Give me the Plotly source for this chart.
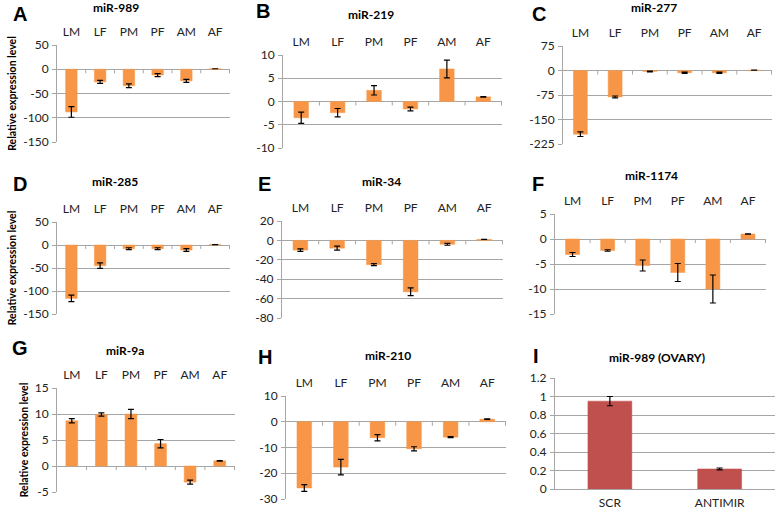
import plotly.graph_objects as go

W, H = 778, 512

categories = ["LM", "LF", "PM", "PF", "AM", "AF"]

mir989 = [-88, -26, -34, -12, -24, 1]
mir989_err = [11, 3, 4, 3, 3, 0]

mir219 = [-3.5, -2.4, 2.4, -1.6, 7.0, 1.0]
mir219_err = [1.2, 0.9, 1.0, 0.4, 1.9, 0.05]

mir277 = [-195, -81, -3, -7, -7, 1]
mir277_err = [7, 3, 1, 2, 2, 0]

mir285 = [-116, -45, -8, -8, -11, 1]
mir285_err = [7, 6, 2, 2, 3, 0]

mir34 = [-10, -8, -25, -53, -4, 1]
mir34_err = [1.3, 2, 1, 4, 1, 0]

mir1174 = [-3.1, -2.3, -5.3, -6.7, -10.0, 1.0]
mir1174_err = [0.4, 0.15, 1.1, 1.8, 2.8, 0.05]

mir9a = [8.7, 9.9, 10.0, 4.3, -3.1, 1.0]
mir9a_err = [0.4, 0.3, 0.9, 0.8, 0.4, 0.05]

mir210 = [-25.7, -17.6, -6.2, -10.5, -6.0, 1.0]
mir210_err = [1.3, 3.0, 1.2, 0.8, 0.2, 0.1]

ovary_categories = ["SCR", "ANTIMIR"]
ovary = [0.95, 0.217]
ovary_err = [0.05, 0.01]

# y tick values per panel
ticks_989 = [-150, -100, -50, 0, 50]
ticks_219 = [-10, -5, 0, 5, 10]
ticks_277 = [-225, -150, -75, 0, 75]
ticks_285 = [-150, -100, -50, 0, 50]
ticks_34 = [-80, -60, -40, -20, 0, 20]
ticks_1174 = [-15, -10, -5, 0, 5]
ticks_9a = [-5, 0, 5, 10, 15]
ticks_210 = [-30, -20, -10, 0, 10]
ticks_ovary = [0, 0.2, 0.4, 0.6, 0.8, 1, 1.2]

ORANGE = "#F79646"
RED = "#C0504D"
GRID = "#A6A6A6"

# ylab: None or title standoff in px
panels = [
    ("A", "miR-989", categories, mir989, mir989_err, ticks_989, ORANGE, (57, 230, 45, 142), (20, 14), (116, 7), 4),
    ("B", "miR-219", categories, mir219, mir219_err, ticks_219, ORANGE, (283, 502, 55, 148), (263, 11), (371, 14), None),
    ("C", "miR-277", categories, mir277, mir277_err, ticks_277, ORANGE, (563, 772, 46, 144), (539, 14), (654, 7), None),
    ("D", "miR-285", categories, mir285, mir285_err, ticks_285, ORANGE, (57, 230, 222, 314), (20, 184), (115, 181), 4),
    ("E", "miR-34", categories, mir34, mir34_err, ticks_34, ORANGE, (282, 503, 221, 318), (264, 184), (381, 181), None),
    ("F", "miR-1174", categories, mir1174, mir1174_err, ticks_1174, ORANGE, (555, 766, 214, 314), (538, 184), (651, 175), None),
    ("G", "miR-9a", categories, mir9a, mir9a_err, ticks_9a, ORANGE, (57, 235, 388, 492), (20, 348), (125, 350), 4),
    ("H", "miR-210", categories, mir210, mir210_err, ticks_210, ORANGE, (286, 506, 396, 499), (265, 357), (388, 355), None),
    ("I", "miR-989 (OVARY)", ovary_categories, ovary, ovary_err, ticks_ovary, RED, (555, 775, 378, 489), (536, 356), (657, 357), None),
]

fig = go.Figure()
annotations = []
shapes = []
TICKFONT = dict(family="Lato, Open Sans, sans-serif", size=12, color="#222222")

for i, (letter, title, cats, vals, errs, tv, color, box, lpos, tpos, ylab) in enumerate(panels):
    n = i + 1
    xa = "x" if n == 1 else f"x{n}"
    ya = "y" if n == 1 else f"y{n}"
    x0, x1, yt, yb = box
    fig.add_trace(go.Bar(
        x=cats, y=vals, xaxis=xa, yaxis=ya,
        marker=dict(color=color, line=dict(color=color, width=0.5)),
        error_y=dict(type="data", array=errs, color="black", thickness=1.2, width=3),
        showlegend=False, hoverinfo="skip",
    ))
    is_ovary = letter == "I"
    xkey = "xaxis" if n == 1 else f"xaxis{n}"
    ykey = "yaxis" if n == 1 else f"yaxis{n}"
    ttext = [("%g" % v) for v in tv]
    ytitle = dict(
        text="<b>Relative expression level</b>" if ylab is not None else "",
        font=dict(family="Lato, Open Sans, sans-serif", size=10.5, color="black"),
        standoff=ylab if ylab is not None else 0,
    )
    fig.update_layout(**{
        xkey: dict(
            domain=[x0 / W, x1 / W], anchor=ya, automargin=False,
            side="bottom" if is_ovary else "top",
            showline=is_ovary, linecolor=GRID, linewidth=1,
            showgrid=False, ticks="", tickfont=TICKFONT,
            ticklabelstandoff=3 if is_ovary else 6,
            fixedrange=True,
        ),
        ykey: dict(
            domain=[1 - yb / H, 1 - yt / H], anchor=xa, automargin=False,
            range=[min(tv), max(tv)], tickmode="array", tickvals=tv, ticktext=ttext,
            showline=True, linecolor=GRID, linewidth=1,
            showgrid=True, gridcolor=GRID, gridwidth=1,
            zeroline=True, zerolinecolor=GRID, zerolinewidth=1,
            ticks="outside", ticklen=4, tickcolor=GRID,
            tickfont=TICKFONT, ticklabelstandoff=1,
            title=ytitle,
            fixedrange=True,
        ),
    })
    for k in range(len(cats)):
        shapes.append(dict(
            type="line", xref=xa, yref=ya, x0=k + 0.5, x1=k + 0.5,
            ysizemode="pixel", yanchor=0, y0=0, y1=-4,
            line=dict(color=GRID, width=1), layer="above",
        ))
    annotations.append(dict(
        text=f"<b>{letter}</b>", xref="paper", yref="paper",
        x=lpos[0] / W, y=1 - lpos[1] / H, xanchor="center", yanchor="middle",
        showarrow=False, font=dict(family="Liberation Sans, Arial, sans-serif", size=20, color="black"),
    ))
    annotations.append(dict(
        text=f"<b>{title}</b>", xref="paper", yref="paper",
        x=tpos[0] / W, y=1 - tpos[1] / H, xanchor="center", yanchor="middle",
        showarrow=False, font=dict(family="Lato, Open Sans, sans-serif", size=12, color="black"),
    ))

fig.update_layout(
    width=W, height=H, margin=dict(l=0, r=0, t=0, b=0, pad=0, autoexpand=False),
    paper_bgcolor="white", plot_bgcolor="white",
    bargap=0.6, annotations=annotations, shapes=shapes,
)

fig.write_html(
    "out.html",
    config={"displayModeBar": False, "staticPlot": True},
    post_script="document.body.style.margin='0';document.body.style.overflow='hidden';",
)
